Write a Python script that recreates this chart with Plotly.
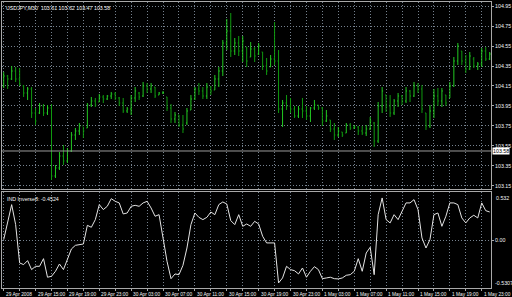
import plotly.graph_objects as go

# ---------------- data ----------------
title_text = "USDJPY,M30  103.61 103.62 103.47 103.58"
ind_title = "IND Inverse8: -0.4524"

bar_idx = list(range(123))

opens = [104.15,104.25,104.22,104.30,104.22,104.15,104.08,104.12,103.88,103.88,
103.95,103.88,103.93,103.25,103.33,103.45,103.40,103.50,103.66,103.70,
103.75,103.73,103.96,104.00,103.99,104.04,104.02,104.05,104.07,104.03,
103.98,103.90,103.92,104.03,104.08,104.05,104.15,104.12,104.14,104.06,
104.08,104.04,103.93,103.82,103.86,103.76,103.78,103.91,104.02,104.12,
104.10,104.05,104.14,104.11,104.22,104.30,104.58,104.70,104.50,104.58,
104.50,104.54,104.44,104.52,104.47,104.49,104.35,104.34,104.42,104.40,
103.92,103.98,103.95,103.92,103.85,103.92,103.90,103.85,103.93,103.96,
103.93,103.80,103.81,103.72,103.66,103.69,103.68,103.76,103.73,103.74,
103.70,103.68,103.72,103.78,103.60,103.95,104.06,103.95,103.88,104.00,
104.05,104.00,104.10,104.05,104.15,104.12,103.88,103.75,103.90,104.05,
104.00,104.06,104.03,104.15,104.40,104.50,104.40,104.32,104.42,104.35,
104.37,104.50,104.42]

highs = [104.29,104.26,104.35,104.34,104.33,104.16,104.14,104.14,103.93,103.98,
103.97,103.96,103.97,103.36,103.49,103.56,103.53,103.69,103.73,103.78,
103.74,103.98,104.04,104.03,104.07,104.06,104.06,104.09,104.09,104.04,
104.03,103.94,104.06,104.14,104.09,104.19,104.18,104.18,104.14,104.09,
104.10,104.04,103.97,103.89,103.86,103.86,103.93,104.06,104.14,104.18,
104.14,104.18,104.15,104.26,104.34,104.61,104.82,104.88,104.63,104.65,
104.65,104.54,104.59,104.54,104.58,104.49,104.43,104.46,104.79,104.51,
104.01,104.06,104.03,103.95,103.95,104.03,103.95,103.94,104.01,103.96,
103.94,103.91,103.81,103.78,103.74,103.69,103.78,103.78,103.76,103.75,
103.75,103.76,103.84,103.79,103.99,104.14,104.06,104.06,104.02,104.08,
104.06,104.14,104.11,104.19,104.18,104.16,103.88,103.96,104.12,104.13,
104.13,104.06,104.19,104.44,104.58,104.50,104.46,104.49,104.44,104.39,
104.53,104.54,104.49]

lows = [104.13,104.12,104.21,104.19,104.15,104.04,104.01,103.83,103.76,103.87,
103.85,103.86,103.21,103.23,103.31,103.36,103.38,103.49,103.61,103.66,
103.63,103.73,103.94,103.94,103.99,103.98,104.01,104.02,104.01,103.95,
103.88,103.88,103.86,103.99,104.01,104.04,104.08,104.08,104.03,104.06,
104.07,103.90,103.78,103.78,103.74,103.68,103.76,103.91,104.01,104.06,
104.02,104.02,104.06,104.11,104.14,104.25,104.51,104.44,104.46,104.45,
104.39,104.34,104.44,104.39,104.46,104.31,104.26,104.34,104.36,103.88,
103.74,103.91,103.88,103.83,103.83,103.83,103.81,103.79,103.91,103.91,
103.75,103.79,103.69,103.61,103.64,103.64,103.68,103.71,103.72,103.66,
103.66,103.65,103.71,103.54,103.58,103.88,103.89,103.84,103.86,103.94,
103.96,103.98,103.99,104.04,104.08,103.88,103.71,103.73,103.83,103.95,
103.94,103.95,104.03,104.14,104.36,104.36,104.28,104.31,104.33,104.31,
104.34,104.40,104.41]

closes = [104.25,104.22,104.30,104.22,104.17,104.08,104.12,103.88,103.80,103.95,
103.88,103.93,103.25,103.33,103.45,103.40,103.50,103.66,103.70,103.75,
103.70,103.96,104.00,103.96,104.04,104.02,104.05,104.07,104.03,103.98,
103.90,103.92,104.03,104.10,104.04,104.15,104.12,104.15,104.05,104.08,
104.08,103.93,103.82,103.86,103.76,103.72,103.90,104.02,104.12,104.10,
104.05,104.14,104.10,104.22,104.30,104.58,104.70,104.50,104.58,104.50,
104.60,104.40,104.52,104.45,104.55,104.35,104.30,104.42,104.40,103.92,
103.98,103.95,103.92,103.85,103.92,103.90,103.85,103.93,103.96,103.93,
103.80,103.85,103.72,103.66,103.70,103.66,103.76,103.73,103.74,103.70,
103.68,103.72,103.80,103.60,103.95,104.10,103.95,103.88,104.00,104.05,
104.00,104.10,104.05,104.15,104.12,103.92,103.75,103.90,104.05,104.00,
104.10,103.98,104.15,104.40,104.55,104.40,104.32,104.45,104.35,104.37,
104.50,104.42,104.47]

ind_values = [0.007,0.213,0.401,0.176,-0.255,-0.274,-0.229,-0.330,-0.293,-0.293,
-0.207,-0.416,-0.405,-0.349,-0.267,-0.330,-0.218,-0.098,-0.057,-0.049,
-0.042,0.168,0.146,0.232,0.401,0.345,0.382,0.468,0.438,0.420,
0.296,0.307,0.382,0.393,0.382,0.420,0.438,0.363,0.270,0.288,
0.045,-0.237,-0.432,-0.379,-0.387,-0.282,-0.087,0.176,0.307,0.258,
0.232,0.258,0.318,0.288,0.401,0.431,0.408,0.221,0.176,0.288,
0.157,0.183,0.157,0.213,0.183,0.045,-0.030,-0.030,-0.030,-0.480,
-0.424,-0.293,-0.330,-0.342,-0.379,-0.312,-0.416,-0.349,-0.297,-0.330,
-0.432,-0.424,-0.416,-0.432,-0.435,-0.424,-0.394,-0.387,-0.349,-0.207,
-0.349,-0.143,-0.079,-0.387,0.288,0.476,0.232,0.195,0.288,0.232,
0.326,0.420,0.420,0.457,0.345,0.026,-0.087,0.007,0.288,0.307,
0.157,0.270,0.420,0.420,0.401,0.251,0.195,0.251,0.281,0.251,
0.420,0.333,0.318]

price_ticks = [103.15, 103.35, 103.55, 103.75, 103.95, 104.15, 104.35, 104.55, 104.75, 104.95]
price_tick_text = ["103.15", "103.35", "103.55", "103.75", "103.95", "104.15", "104.35", "104.55", "104.75", "104.95"]
bid_level = 103.50
bid_label = "103.58"
ind_max = 0.532
ind_min = -0.5307
ind_max_text = "0.532"
ind_min_text = "-0.5307"

time_idx = [0, 8, 16, 24, 32, 40, 48, 56, 64, 72, 80, 88, 96, 104, 112, 120]
time_labels = ["29 Apr 2008", "29 Apr 15:00", "29 Apr 19:00", "29 Apr 23:00",
               "30 Apr 03:00", "30 Apr 07:00", "30 Apr 11:00", "30 Apr 15:00",
               "30 Apr 19:00", "30 Apr 23:00", "1 May 03:00", "1 May 07:00",
               "1 May 11:00", "1 May 15:00", "1 May 19:00", "1 May 23:00"]

# ---------------- figure ----------------
FONT = "Liberation Sans"
GRID = "#76828f"
BORDER = "#a8a8a8"
TXT = "#f4f4f4"
FS = 5.3

fig = go.Figure()
fig.add_trace(go.Ohlc(
    x=bar_idx, open=opens, high=highs, low=lows, close=closes,
    increasing=dict(line=dict(color="#22c822", width=1)),
    decreasing=dict(line=dict(color="#0f9a0f", width=1)),
    tickwidth=0.25, xaxis="x", yaxis="y", hoverinfo="skip", showlegend=False))
fig.add_trace(go.Scatter(
    x=bar_idx, y=ind_values, mode="lines",
    line=dict(color="#e4e4e4", width=1),
    xaxis="x2", yaxis="y2", hoverinfo="skip", showlegend=False))

xr = [-0.425, 122.325]
common_x = dict(range=xr, showticklabels=False, zeroline=False,
                showline=True, mirror=True, linecolor=BORDER, linewidth=1,
                tick0=0, dtick=4, showgrid=True, gridcolor=GRID,
                griddash="1px,2px", gridwidth=1, fixedrange=True)

fig.update_layout(
    width=512, height=297,
    margin=dict(l=1, r=20, t=2, b=9),
    paper_bgcolor="black", plot_bgcolor="black",
    font=dict(family=FONT, size=FS, color=TXT),
    showlegend=False,
    xaxis=dict(domain=[0, 1], anchor="y", rangeslider=dict(visible=False), **common_x),
    xaxis2=dict(domain=[0, 1], anchor="y2", matches="x", ticks="outside",
                ticklen=2, tickcolor=BORDER, **common_x),
    yaxis=dict(domain=[0.3462, 1], anchor="x", side="right", range=[103.12, 104.99],
               tickvals=price_ticks, ticktext=price_tick_text,
               tickfont=dict(family=FONT, size=FS, color=TXT),
               ticks="outside", ticklen=2, tickcolor=BORDER,
               showgrid=True, gridcolor=GRID, griddash="1px,2px", gridwidth=1,
               zeroline=False, showline=True, mirror=True, linecolor=BORDER,
               fixedrange=True),
    yaxis2=dict(domain=[0, 0.3357], anchor="x2", side="right", range=[-0.537, 0.543],
                tickvals=[0], ticktext=["0.00"],
                tickfont=dict(family=FONT, size=FS, color=TXT),
                ticks="outside", ticklen=2, tickcolor=BORDER,
                showgrid=True, gridcolor=GRID, griddash="1px,2px", gridwidth=1,
                zeroline=False, showline=True, mirror=True, linecolor=BORDER,
                fixedrange=True),
)

# bid line
fig.add_shape(type="line", xref="x domain", yref="y", x0=0, x1=1.0,
              y0=bid_level, y1=bid_level, line=dict(color="#9a9a9a", width=1))

annotations = []
annotations.append(dict(text=bid_label, xref="paper", yref="y", x=1, y=bid_level,
                        xanchor="left", yanchor="middle", xshift=1, showarrow=False,
                        bgcolor="white", borderpad=0,
                        font=dict(family=FONT, size=FS, color="black")))
annotations.append(dict(text=title_text, xref="paper", yref="paper", x=0, y=1,
                        xanchor="left", yanchor="top", xshift=2, yshift=-1,
                        showarrow=False, font=dict(family=FONT, size=FS, color=TXT)))
annotations.append(dict(text=ind_title, xref="paper", yref="y2", x=0, y=ind_max,
                        xanchor="left", yanchor="top", xshift=3, yshift=-1,
                        showarrow=False, font=dict(family=FONT, size=FS, color=TXT)))
annotations.append(dict(text=ind_max_text, xref="paper", yref="y2", x=1, y=ind_max,
                        xanchor="left", yanchor="top", xshift=3, showarrow=False,
                        font=dict(family=FONT, size=FS, color=TXT)))
annotations.append(dict(text=ind_min_text, xref="paper", yref="y2", x=1, y=-0.537,
                        xanchor="left", yanchor="bottom", xshift=2, showarrow=False,
                        font=dict(family=FONT, size=FS, color=TXT)))
for i, lab in zip(time_idx, time_labels):
    annotations.append(dict(text=lab, xref="x2", yref="paper", x=i, y=0,
                            xanchor="left", yanchor="top", xshift=0, yshift=-2,
                            showarrow=False,
                            font=dict(family=FONT, size=4.8, color=TXT)))
fig.update_layout(annotations=annotations)

fig.write_html("out.html")
